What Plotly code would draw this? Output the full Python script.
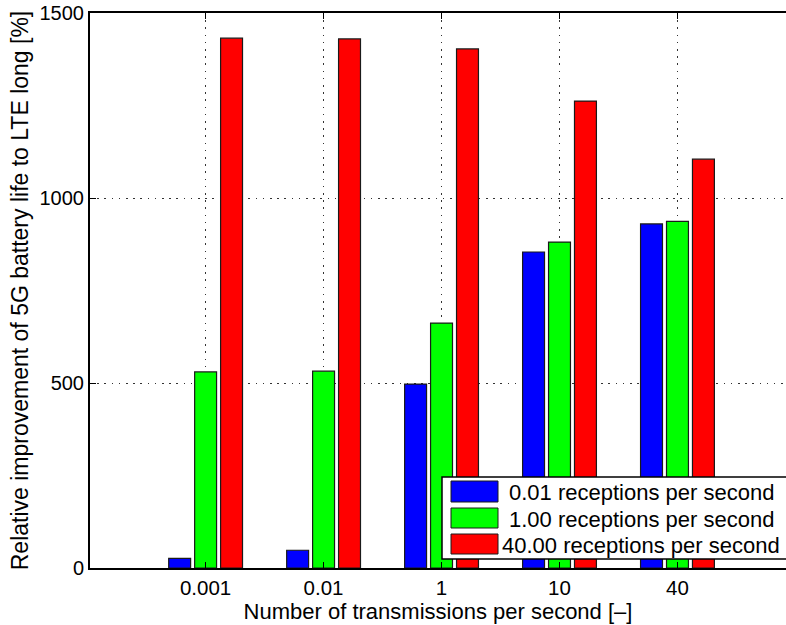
import plotly.graph_objects as go

categories = ["0.001", "0.01", "1", "10", "40"]
positions = [1, 2, 3, 4, 5]
series_names = ["0.01 receptions per second", "1.00 receptions per second", "40.00 receptions per second"]
blue_vals = [26, 48, 497, 854, 930]
green_vals = [530, 532, 662, 881, 937]
red_vals = [1432, 1430, 1403, 1262, 1105]
y_ticks = [0, 500, 1000, 1500]

colors = ["#0000FF", "#00FF00", "#FF0000"]
FONT = "Liberation Sans, Arial, Helvetica, sans-serif"

W, H = 786, 625
L, R, T, B = 90, 0, 13, 57
pw, ph = W - L - R, H - T - B

fig = go.Figure()
for name, vals, c in zip(series_names, [blue_vals, green_vals, red_vals], colors):
    fig.add_trace(go.Bar(x=positions, y=vals, name=name,
                         marker=dict(color=c, line=dict(color="#1a1a1a", width=1.2)),
                         showlegend=False))

def px_x(p):
    return (p - L) / pw

def px_y(p):
    return (H - B - p) / ph

shapes = []
annotations = []
# legend box
shapes.append(dict(type="rect", xref="paper", yref="paper", layer="above",
                   x0=px_x(442), x1=px_x(800), y0=px_y(559), y1=px_y(477),
                   fillcolor="white", line=dict(color="black", width=1.5)))
rows = [(481, 502), (508, 528), (534, 554)]
for (r0, r1), name, c in zip(rows, series_names, colors):
    shapes.append(dict(type="rect", xref="paper", yref="paper", layer="above",
                       x0=px_x(451), x1=px_x(498), y0=px_y(r1), y1=px_y(r0),
                       fillcolor=c, line=dict(color="#1a1a1a", width=1)))
    annotations.append(dict(xref="paper", yref="paper", x=px_x(641), y=px_y((r0 + r1) / 2 + 1),
                            text=name, showarrow=False, xanchor="center", yanchor="middle",
                            font=dict(family=FONT, size=22, color="black")))

GRID_DASH = "1.5px,5.7px"

fig.update_layout(
    width=W, height=H,
    margin=dict(l=L, r=R, t=T, b=B),
    paper_bgcolor="white", plot_bgcolor="white",
    barmode="group", bargap=0.34, bargroupgap=0.155,
    font=dict(family=FONT, size=20, color="black"),
    shapes=shapes, annotations=annotations,
    xaxis=dict(range=[0.02, 5.92], tickvals=positions, ticktext=categories,
               showline=True, linecolor="black", linewidth=2, mirror="ticks",
               ticks="inside", ticklen=6, tickcolor="black", tickwidth=1,
               tickfont=dict(size=20.5),
               showgrid=True, gridcolor="#333", griddash=GRID_DASH, gridwidth=1,
               zeroline=False,
               title=dict(text="Number of transmissions per second [\u2013]", standoff=2,
                          font=dict(family=FONT, size=22))),
    yaxis=dict(range=[0, 1500], tickvals=y_ticks,
               showline=True, linecolor="black", linewidth=2, mirror=False,
               ticks="inside", ticklen=6, tickcolor="black", tickwidth=1,
               tickfont=dict(size=20),
               showgrid=True, gridcolor="#333", griddash=GRID_DASH, gridwidth=1,
               zeroline=False,
               title=dict(text="Relative improvement of 5G battery life to LTE long [%]", standoff=4,
                          font=dict(family=FONT, size=23))),
)

fig.write_html("out.html", config={"displayModeBar": False},
               post_script="document.documentElement.style.margin='0';document.body.style.margin='0';document.body.style.overflow='hidden';")
